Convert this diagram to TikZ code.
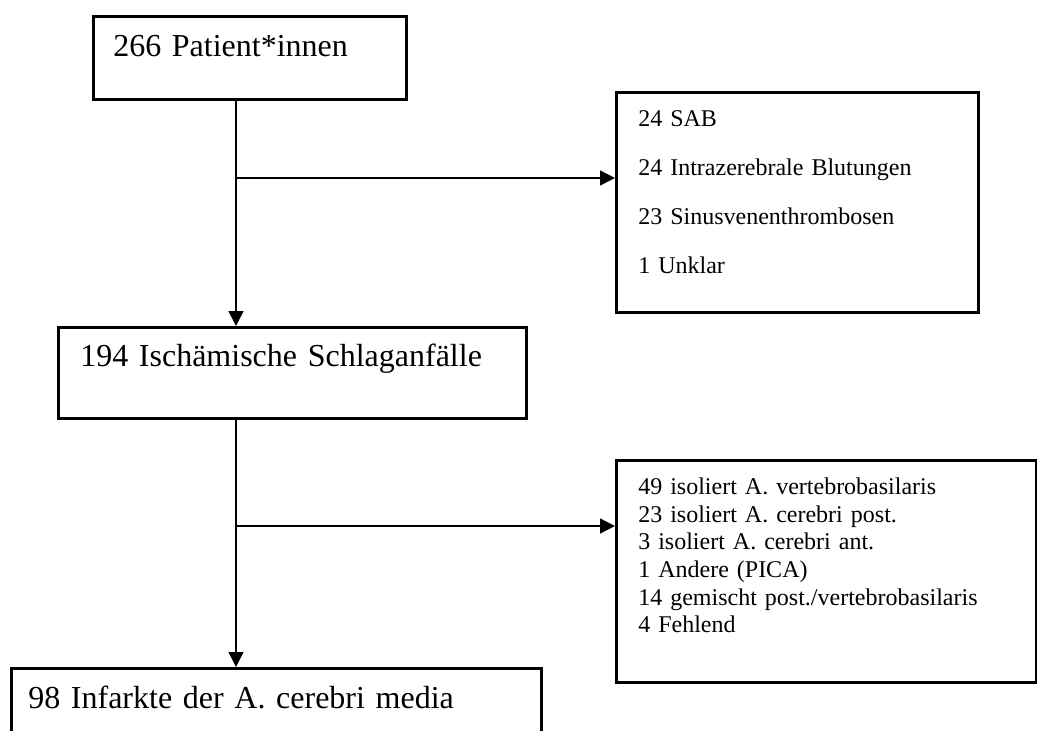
\documentclass[tikz,border=0pt]{standalone}
\usepackage{fontspec}
\setmainfont{Liberation Serif}
\usepackage{tikz}
\usetikzlibrary{arrows.meta,positioning}
\tikzset{
  fc diagram/.style={x=1pt, y=-1pt, line join=miter},
  fc box/.style={draw, line width=2.6pt, anchor=north west,
    inner ysep=0pt, align=left},
  fc big/.style={font=\fontsize{32}{38}\selectfont},
  fc list/.style={font=\fontsize{24}{49}\selectfont},
  fc tight/.style={font=\fontsize{24}{27.7}\selectfont},
  fc arrow/.style={-{Triangle[length=15pt,width=15pt]}, line width=1.4pt},
  fc line/.style={line width=1.4pt}
}
\begin{document}
\begin{tikzpicture}[fc diagram]
\useasboundingbox (0,0) rectangle (1037,731);
\clip (0,0) rectangle (1037,731);
% main column
\node[fc box, fc big, inner xsep=20pt, text width=273pt,
  text height=40pt, text depth=43pt] (pat) at (92,15) {266 Patient*innen};
\node[fc box, fc big, inner xsep=22pt, text width=424pt,
  text height=39pt, text depth=52pt] (isch) at (57,326) {194 Ischämische Schlaganfälle};
\node[fc box, fc big, inner xsep=17pt, text width=496pt,
  text height=40pt, text depth=70pt] (mca) at (10,667) {98 Infarkte der A. cerebri media};
% exclusions
\node[fc box, fc list, inner xsep=22pt, text width=318pt,
  text height=34pt, text depth=186pt] (other) at (615,91)
  {24 SAB\\24 Intrazerebrale Blutungen\\23 Sinusvenenthrombosen\\1 Unklar};
\node[fc box, fc tight, inner xsep=22pt, text width=376pt,
  text height=34pt, text depth=188pt] (post) at (615,459)
  {49 isoliert A. vertebrobasilaris\\23 isoliert A. cerebri post.\\3 isoliert A. cerebri ant.\\1 Andere (PICA)\\14 gemischt post./vertebrobasilaris\\4 Fehlend};
% connectors
\coordinate (trunk) at (236,0);
\coordinate (forkA) at (236,178);
\coordinate (forkB) at (236,526);
\draw[fc arrow] (pat.south -| trunk) -- (isch.north -| trunk);
\draw[fc arrow] (isch.south -| trunk) -- (mca.north -| trunk);
\draw[fc arrow] (forkA) -- (other.west |- forkA);
\draw[fc arrow] (forkB) -- (post.west |- forkB);
\end{tikzpicture}
\end{document}
